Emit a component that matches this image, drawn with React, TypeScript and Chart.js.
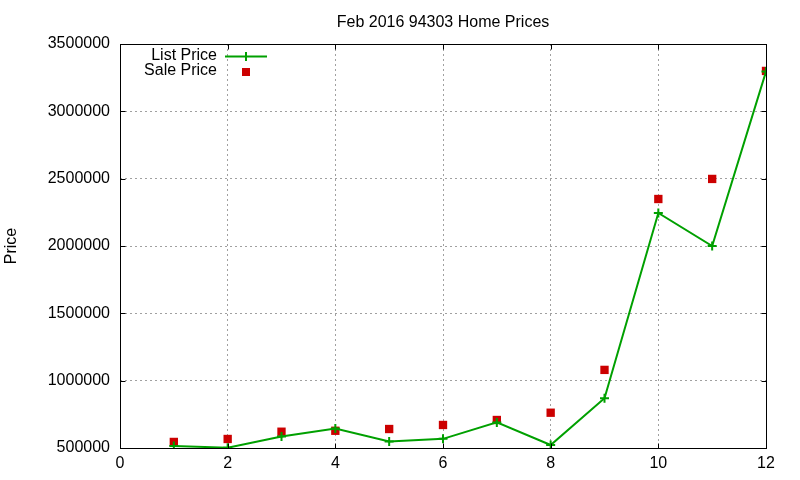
import React, { useEffect, useRef } from "react";
import { Chart, registerables } from "chart.js";

Chart.register(...registerables);

const months = [1, 2, 3, 4, 5, 6, 7, 8, 9, 10, 11, 12];
const listPrice = [515000, 502000, 585000, 645000, 548000, 568000, 690000, 522000, 870000, 2245000, 2000000, 3295000];
const salePrice = [545000, 567000, 621000, 628000, 641000, 671000, 708000, 762000, 1080000, 2349000, 2498000, 3300000];
const titleText = "Feb 2016 94303 Home Prices";
const yTitle = "Price";
const legendLabels = ["List Price", "Sale Price"];

const GREEN = "#00a000";
const RED = "#cc0000";
const FONT = "'Liberation Sans', Arial, sans-serif";

const framePlugin = {
  id: "gnuFrame",
  afterDatasetsDraw(chart: any) {
    const { ctx, chartArea: a, scales } = chart;
    ctx.save();
    ctx.strokeStyle = "#000";
    ctx.lineWidth = 1;
    const L = Math.round(a.left) + 0.5, R = Math.round(a.right) + 0.5;
    const T = Math.round(a.top) + 0.5, B = Math.round(a.bottom) + 0.5;
    ctx.strokeRect(L, T, R - L, B - T);
    const tl = 5;
    ctx.beginPath();
    scales.x.ticks.forEach((t: any) => {
      const px = Math.round(scales.x.getPixelForValue(t.value)) + 0.5;
      ctx.moveTo(px, B); ctx.lineTo(px, B - tl);
      ctx.moveTo(px, T); ctx.lineTo(px, T + tl);
    });
    scales.y.ticks.forEach((t: any) => {
      const py = Math.round(scales.y.getPixelForValue(t.value)) + 0.5;
      ctx.moveTo(L, py); ctx.lineTo(L + tl, py);
      ctx.moveTo(R, py); ctx.lineTo(R - tl, py);
    });
    ctx.stroke();

    // legend
    ctx.font = `16px ${FONT}`;
    ctx.fillStyle = "#000";
    ctx.textAlign = "right";
    ctx.textBaseline = "middle";
    ctx.fillText(legendLabels[0], 217, 56);
    ctx.fillText(legendLabels[1], 217, 71);
    ctx.strokeStyle = GREEN;
    ctx.lineWidth = 2;
    ctx.beginPath();
    ctx.moveTo(225, 56.5); ctx.lineTo(267, 56.5);
    ctx.moveTo(246, 52); ctx.lineTo(246, 61);
    ctx.stroke();
    ctx.fillStyle = RED;
    ctx.fillRect(242, 68, 8, 8);
    ctx.restore();
  },
};

export default function App() {
  const ref = useRef<HTMLCanvasElement>(null);
  useEffect(() => {
    if (!ref.current) return;
    const chart = new Chart(ref.current, {
      type: "scatter",
      data: {
        datasets: [
          {
            label: legendLabels[0],
            data: months.map((m, i) => ({ x: m, y: listPrice[i] })),
            showLine: true,
            borderColor: GREEN,
            backgroundColor: GREEN,
            borderWidth: 2,
            pointStyle: "cross",
            pointRadius: 4.5,
            pointBorderWidth: 2,
            pointBorderColor: GREEN,
          },
          {
            label: legendLabels[1],
            data: months.map((m, i) => ({ x: m, y: salePrice[i] })),
            showLine: false,
            pointStyle: "rect",
            pointRadius: 5.9,
            pointBorderWidth: 0,
            pointBackgroundColor: RED,
            backgroundColor: RED,
            borderColor: RED,
          },
        ],
      },
      options: {
        responsive: false,
        animation: false,
        layout: { padding: { left: 0, right: 34, top: 0, bottom: 0 } },
        plugins: {
          legend: { display: false },
          tooltip: { enabled: false },
          title: {
            display: true,
            text: titleText,
            fullSize: false,
            color: "#000",
            font: { family: FONT, size: 16, weight: "normal" },
            padding: { top: 12.5, bottom: 12.3 },
          },
        },
        scales: {
          x: {
            type: "linear",
            min: 0,
            max: 12,
            ticks: { stepSize: 2, color: "#000", padding: 6, font: { family: FONT, size: 16 } },
            grid: { color: "#a0a0a0", drawTicks: false, lineWidth: 1 },
            border: { display: false, dash: [2, 3] },
            afterFit: (s: any) => { s.height = 32; },
          },
          y: {
            type: "linear",
            min: 500000,
            max: 3500000,
            ticks: {
              stepSize: 500000,
              color: "#000",
              padding: 10,
              font: { family: FONT, size: 16 },
              callback: (v: any) => String(v),
            },
            grid: { color: "#a0a0a0", drawTicks: false, lineWidth: 1 },
            border: { display: false, dash: [2, 3] },
            title: {
              display: true,
              text: yTitle,
              color: "#000",
              font: { family: FONT, size: 16 },
              padding: 2,
            },
            afterFit: (s: any) => { s.width = 120; },
          },
        },
      },
      plugins: [framePlugin],
    });
    return () => chart.destroy();
  }, []);
  return (
    <div style={{ position: "fixed", left: 0, top: 0, width: 800, height: 480, background: "#fff" }}>
      <canvas ref={ref} width={800} height={480} style={{ width: 800, height: 480 }} />
    </div>
  );
}
